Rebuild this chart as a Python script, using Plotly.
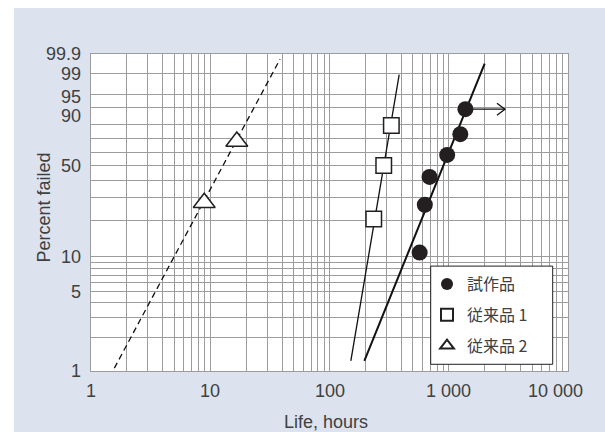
import numpy as np
import plotly.graph_objects as go

# ---------------- data ----------------
proto_life = [570, 630, 690, 970, 1250, 1380]          # 試作品
proto_pct = [10.9, 26.6, 42.2, 57.8, 73.4, 89.1]
conv1_life = [235, 285, 330]                           # 従来品 1
conv1_pct = [20.6, 50.0, 79.4]
conv2_life = [8.9, 16.7]                               # 従来品 2
conv2_pct = [27.5, 68.0]

proto_fit_life = [196, 2000]
proto_fit_pct = [1.23, 99.65]
conv1_fit_life = [151, 384]
conv1_fit_pct = [1.23, 98.9]
conv2_fit_life = [1.57, 38.5]
conv2_fit_pct = [1.06, 99.8]

arrow_life = [1380, 2960]     # suspended item arrow
arrow_pct = 89.1

x_tick_vals = [1, 10, 100, 1000, 10000]
x_tick_text = ["1", "10", "100", "1 000", "10 000"]
x_minor_vals = [m * d for d in [1, 10, 100, 1000] for m in range(2, 10)]
y_tick_vals = [1, 5, 10, 50, 90, 95, 99, 99.9]
y_tick_text = ["1", "5", "10", "50", "90", "95", "99", "99.9"]
y_minor_vals = [2, 3, 4, 6, 7, 8, 9, 20, 30, 40, 60, 70, 80]

names = ["試作品", "従来品 1", "従来品 2"]


def wb(p):
    p = np.asarray(p, dtype=float) / 100.0
    return np.log(-np.log(1.0 - p))


TXT = "#404040"
GRID = "#9c9c9c"
FONT = "Liberation Sans, Arial, sans-serif"
CJK = "Noto Sans CJK JP, Liberation Sans, sans-serif"
FS = 18

# plot-area pixel frame used to place page decorations
PL, PR, PT, PB = 91, 568, 54.3, 370.7
PW, PH = PR - PL, PB - PT


def px(x):
    return (x - PL) / PW


def py(y):
    return (PB - y) / PH


fig = go.Figure()

# fitted lines
fig.add_trace(go.Scatter(x=conv2_fit_life, y=wb(conv2_fit_pct), mode="lines",
                         line=dict(color="#111", width=1.3, dash="6px,4px"),
                         showlegend=False, hoverinfo="skip"))
fig.add_trace(go.Scatter(x=conv1_fit_life, y=wb(conv1_fit_pct), mode="lines",
                         line=dict(color="#111", width=1.3),
                         showlegend=False, hoverinfo="skip"))
fig.add_trace(go.Scatter(x=proto_fit_life, y=wb(proto_fit_pct), mode="lines",
                         line=dict(color="#111", width=2),
                         showlegend=False, hoverinfo="skip"))
# arrow shaft
fig.add_trace(go.Scatter(x=arrow_life, y=wb([arrow_pct, arrow_pct]), mode="lines",
                         line=dict(color="#111", width=1.3),
                         showlegend=False, hoverinfo="skip"))

# markers
fig.add_trace(go.Scatter(x=proto_life, y=wb(proto_pct), mode="markers", name=names[0],
                         legendgroup="a",
                         marker=dict(symbol="circle", size=16, color="#231f20",
                                     line=dict(width=0))))
fig.add_trace(go.Scatter(x=conv1_life, y=wb(conv1_pct), mode="markers", name=names[1],
                         legendgroup="b",
                         marker=dict(symbol="square", size=15.5, color="white",
                                     line=dict(width=1.5, color="#231f20"))))
fig.add_trace(go.Scatter(x=conv2_life, y=wb(conv2_pct), mode="markers", name=names[2],
                         legendgroup="c",
                         marker=dict(symbol="triangle-up", size=19, color="white",
                                     line=dict(width=1.5, color="#231f20"))))

shapes = [
    # white strips of the page outside the tinted panel
    dict(type="rect", xref="paper", yref="paper", x0=px(0), x1=px(14),
         y0=py(432), y1=py(0), fillcolor="white", line=dict(width=0), layer="below"),
    dict(type="rect", xref="paper", yref="paper", x0=px(0), x1=px(605),
         y0=py(8.3), y1=py(0), fillcolor="white", line=dict(width=0), layer="below"),
    # legend frame
    dict(type="rect", xref="paper", yref="paper", x0=px(430.7), x1=px(552.7),
         y0=py(364), y1=py(266), fillcolor="white",
         line=dict(color="#231f20", width=1), layer="above"),
    # arrow head (open chevron)
    dict(type="path", xref="x", yref="y", xsizemode="pixel", ysizemode="pixel",
         xanchor=arrow_life[1], yanchor=float(wb(arrow_pct)),
         path="M-8,6 L0,0 L-8,-6", line=dict(color="#111", width=1.3)),
]

axis_common = dict(showline=True, mirror=True, linecolor=GRID, linewidth=1,
                   showgrid=True, gridcolor=GRID, gridwidth=1, ticks="",
                   zeroline=False, showticklabels=False)

annotations = []
# x tick labels
x_label_shift = [0, 0, 0, 0, -13]
for v, t, sh in zip(x_tick_vals, x_tick_text, x_label_shift):
    annotations.append(dict(text=t, xref="x", yref="paper", x=float(np.log10(v)), y=0,
                            yanchor="top", xanchor="center", yshift=-8, xshift=sh,
                            showarrow=False, font=dict(family=FONT, size=FS, color=TXT)))
# y tick labels
y_label_shift = [0, 0, 0, 0, -9, -2, 0, 0]
for v, t, sh in zip(y_tick_vals, y_tick_text, y_label_shift):
    annotations.append(dict(text=t, xref="paper", yref="y", x=0, y=float(wb(v)),
                            xanchor="right", yanchor="middle", xshift=-8, yshift=sh,
                            showarrow=False, font=dict(family=FONT, size=FS, color=TXT)))
annotations += [
    dict(text="Percent failed", xref="paper", yref="paper", x=px(44), y=py(207.5),
         textangle=-90, showarrow=False, xanchor="center", yanchor="middle",
         font=dict(family=FONT, size=FS, color=TXT)),
    dict(text="Life, hours", xref="paper", yref="paper", x=px(326), y=py(421.7),
         showarrow=False, xanchor="center", yanchor="middle",
         font=dict(family=FONT, size=FS, color=TXT)),
]

fig.update_layout(
    width=605, height=432,
    margin=dict(l=91, r=37, t=54, b=61),
    paper_bgcolor="#dce3ee",
    plot_bgcolor="white",
    shapes=shapes,
    showlegend=True,
    legend=dict(x=px(427), y=py(267), xanchor="left", yanchor="top",
                bgcolor="rgba(0,0,0,0)", borderwidth=0,
                font=dict(family=CJK, size=16, color=TXT),
                itemsizing="constant", tracegroupgap=7, traceorder="grouped"),
    xaxis=dict(type="log", range=[0, 4], tickvals=x_tick_vals,
               minor=dict(tickvals=x_minor_vals, showgrid=True, gridcolor=GRID, gridwidth=1,
                          ticks=""),
               **axis_common),
    yaxis=dict(range=[float(wb(1)), float(wb(99.9))], tickvals=list(wb(y_tick_vals)),
               minor=dict(tickvals=list(wb(y_minor_vals)), showgrid=True, gridcolor=GRID,
                          gridwidth=1, ticks=""),
               **axis_common),
    annotations=annotations,
)

fig.write_html("out.html")
